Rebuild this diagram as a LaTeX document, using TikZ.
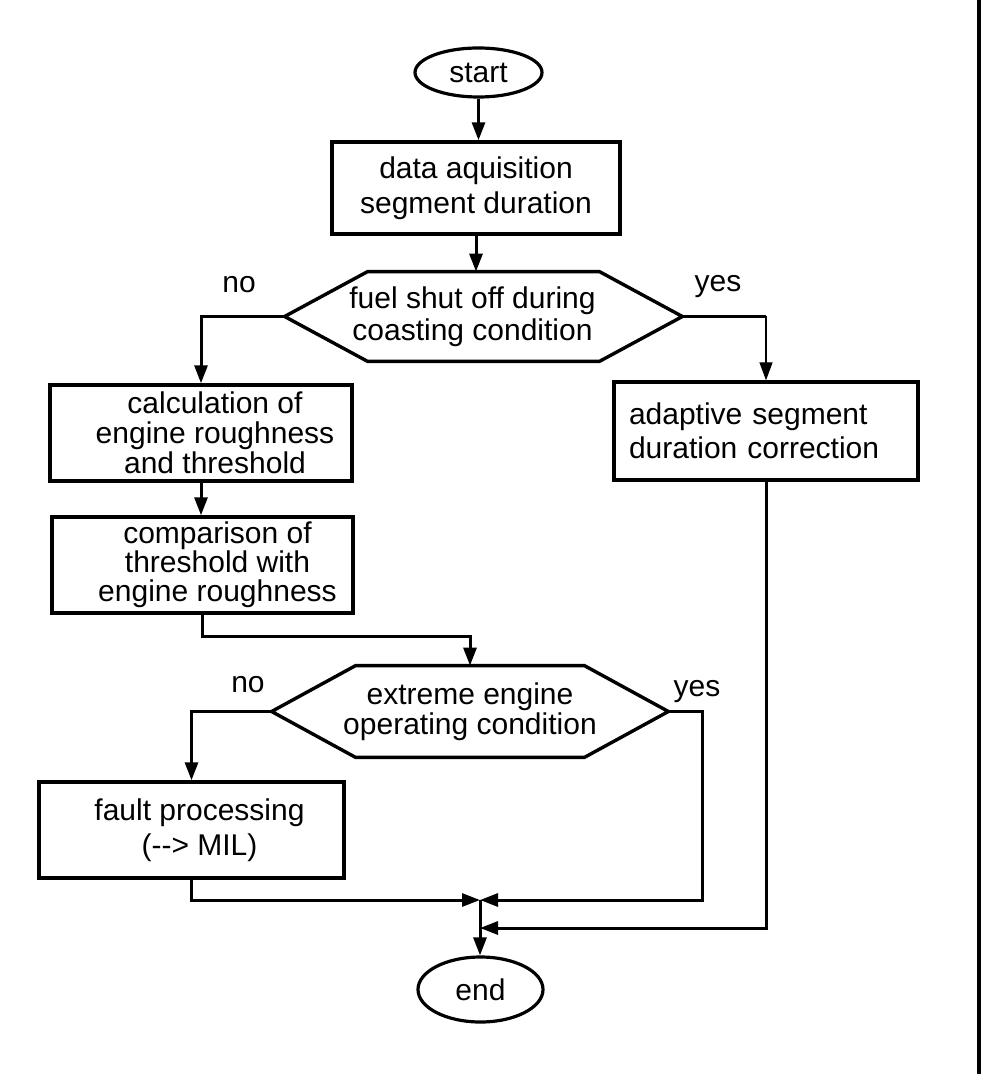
\documentclass[tikz,border=0pt]{standalone}
\usepackage{fontspec}
\setmainfont{Liberation Sans}
\usetikzlibrary{arrows.meta,shapes.geometric}
\begin{document}
\begin{tikzpicture}[x=0.5pt,y=-0.5pt,
  every node/.style={font=\fontsize{15}{16}\selectfont, inner sep=0pt},
  box/.style={draw, line width=1.7pt, rectangle, align=center},
  term/.style={draw, line width=1.6pt, ellipse},
  hex/.style={align=center},
  hexline/.style={line width=1.7pt, line join=miter},
  conn/.style={line width=1.5pt},
  arr/.style={conn, -{Triangle[length=9pt,width=6.5pt]}},
  lbl/.style={anchor=base}]
\fill[white] (0,0) rectangle (992,1074);
\useasboundingbox (0,0) rectangle (992,1074);

% terminals
\node[term, minimum width=63.5pt, minimum height=24.5pt] (start) at (478.5,72.5) {start};
\node[term, minimum width=62.5pt, minimum height=32.5pt] (end) at (480.5,989.5) {end};

% process boxes
\node[box, minimum width=144pt, minimum height=46pt, font=\fontsize{15}{17.5}\selectfont] (b1) at (476,188) {data aquisition\\segment duration};
\node[box, minimum width=151pt, minimum height=48pt, font=\fontsize{15}{15}\selectfont] (b2) at (201,433) {\hspace*{14pt}calculation of\\\hspace*{14pt}engine roughness\\\hspace*{14pt}and threshold};
\node[box, minimum width=150.5pt, minimum height=48pt, font=\fontsize{15}{14.5}\selectfont] (b3) at (202.5,565) {\hspace*{15pt}comparison of\\\hspace*{15pt}threshold with\\\hspace*{15pt}engine roughness};
\node[box, minimum width=152.5pt, minimum height=48pt, font=\fontsize{15}{17.5}\selectfont] (b4) at (191.5,830) {\hspace*{8pt}fault processing\\\hspace*{8pt}(-{}-> MIL)};
\node[box, align=left, text width=137pt, inner xsep=7.5pt, minimum height=49pt, font=\fontsize{15}{17}\selectfont] (adapt) at (766,431) {adaptive segment\\duration correction};

% decisions (hexagons)
\node[hex, minimum width=198.5pt, minimum height=44.5pt] (d1) at (483.5,316.5) {\hspace*{-11pt}fuel shut off during\\\hspace*{-11pt}coasting condition};
\draw[hexline] (d1.west) -- ([xshift=41.5pt]d1.north west) -- ([xshift=-41.5pt]d1.north east) -- (d1.east) -- ([xshift=-41.5pt]d1.south east) -- ([xshift=41.5pt]d1.south west) -- cycle;
\node[hex, minimum width=198pt, minimum height=45.5pt, font=\fontsize{15}{15}\selectfont] (d2) at (470,711.5) {extreme engine\\operating condition};
\draw[hexline] (d2.west) -- ([xshift=42pt]d2.north west) -- ([xshift=-42pt]d2.north east) -- (d2.east) -- ([xshift=-42pt]d2.south east) -- ([xshift=42pt]d2.south west) -- cycle;

% branch labels
\node[lbl] (no1) at (239,293) {no};
\node[lbl] (yes1) at (718,292) {yes};
\node[lbl] (no2) at (248,692) {no};
\node[lbl] (yes2) at (697,696) {yes};

% junction points
\coordinate (j) at (480,900);
\coordinate (j2) at (480,928);
\coordinate (yc) at (d1.east -| adapt.north);

% connectors
\draw[arr] (start.south) -- (start.south |- b1.north);
\draw[arr] (b1.south) -- (b1.south |- d1.north);
\draw[arr] (d1.west) -| (b2.north);
\draw[conn] (d1.east) -- (yc);
\draw[arr, line width=0.7pt] (yc) -- (adapt.north);
\draw[arr] (b2.south) -- (b2.south |- b3.north);
\draw[arr] (b3.south) -- ++(0,22) -| (d2.north);
\draw[arr] (d2.west) -| (b4.north);
\draw[arr] (d2.east) -- ++(34,0) |- (j);
\draw[arr] (b4.south) |- (j);
\draw[arr] (adapt.south) |- (j2);
\draw[arr] (j) -- (j |- end.north);

% right border line
\draw[line width=1.8pt] (979,0) -- (979,1074);
\end{tikzpicture}
\end{document}
